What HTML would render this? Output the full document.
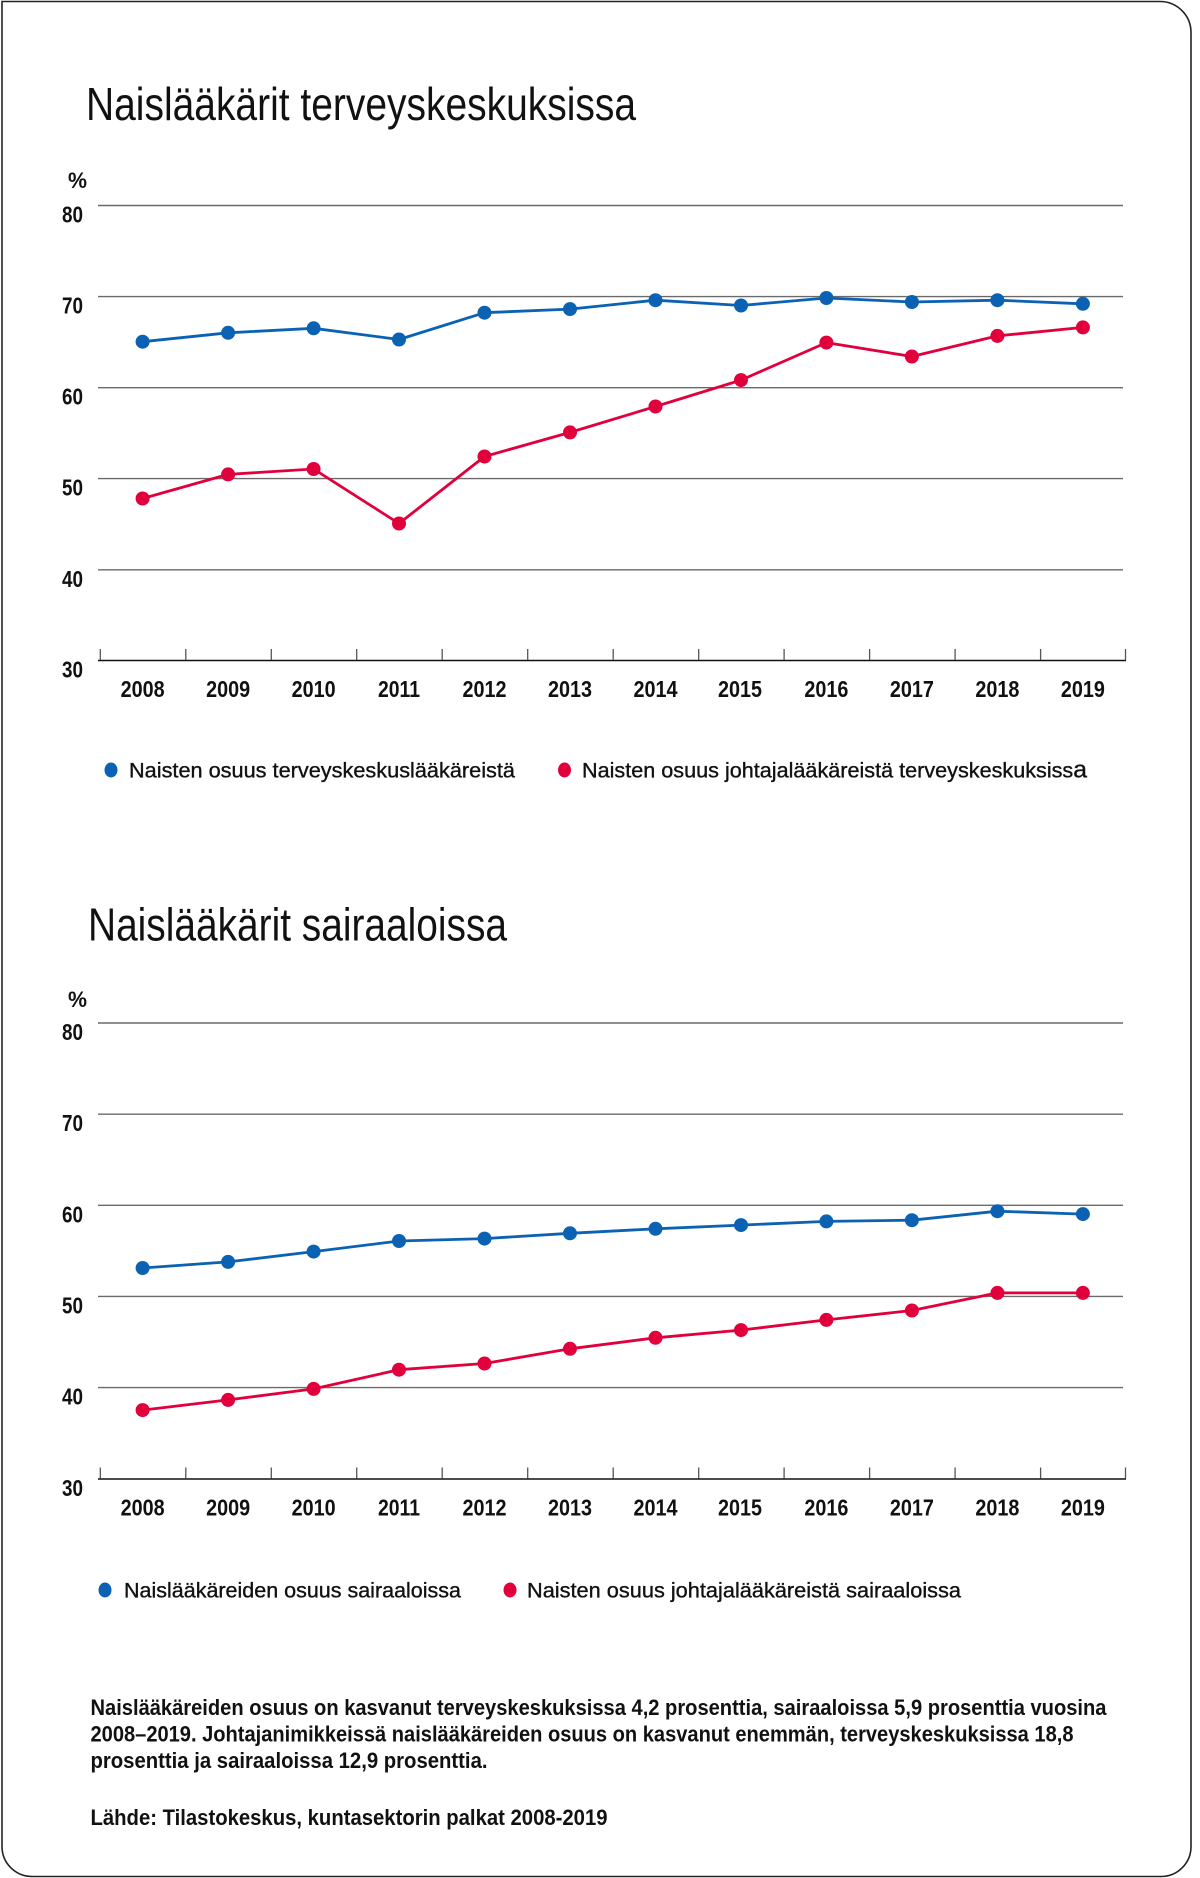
<!DOCTYPE html>
<html>
<head>
<meta charset="utf-8">
<style>
  html, body { margin: 0; padding: 0; background: #ffffff; }
  body { width: 1200px; height: 1878px; overflow: hidden; }
  svg { display: block; }
  .t { font-family: "Liberation Sans Narrow", "Liberation Sans", sans-serif; fill: #111; }
  .b { font-weight: bold; }
  .lg { stroke: #111; stroke-width: 0.35px; }
</style>
</head>
<body>
<svg width="1200" height="1878" viewBox="0 0 1200 1878" xmlns="http://www.w3.org/2000/svg">
  <!-- frame -->
  <path d="M 2 1.5 H 1160 A 31 31 0 0 1 1191 32.5 V 1846 A 30 30 0 0 1 1161 1876.5 H 32 A 30 30 0 0 1 2 1846.5 Z" fill="#fff" stroke="#222" stroke-width="1.6"/>

  <!-- ===== Chart 1 ===== -->
  <text class="t" x="86" y="120" font-size="46" textLength="550" lengthAdjust="spacingAndGlyphs">Naislääkärit terveyskeskuksissa</text>

  <text class="t b" x="68" y="188" font-size="22" textLength="19" lengthAdjust="spacingAndGlyphs">%</text>

  <g stroke="#6a6a6a" stroke-width="1.4">
    <line x1="98" y1="205.5" x2="1123" y2="205.5"/>
    <line x1="98" y1="296.6" x2="1123" y2="296.6"/>
    <line x1="98" y1="387.7" x2="1123" y2="387.7"/>
    <line x1="98" y1="478.6" x2="1123" y2="478.6"/>
    <line x1="98" y1="569.8" x2="1123" y2="569.8"/>
  </g>
  <line x1="98" y1="660.5" x2="1126" y2="660.5" stroke="#111" stroke-width="1.6"/>
  <g stroke="#555" stroke-width="1.3">
    <line x1="100.3" y1="649" x2="100.3" y2="660"/>
    <line x1="185.8" y1="649" x2="185.8" y2="660"/>
    <line x1="271.3" y1="649" x2="271.3" y2="660"/>
    <line x1="356.7" y1="649" x2="356.7" y2="660"/>
    <line x1="442.2" y1="649" x2="442.2" y2="660"/>
    <line x1="527.7" y1="649" x2="527.7" y2="660"/>
    <line x1="613.2" y1="649" x2="613.2" y2="660"/>
    <line x1="698.7" y1="649" x2="698.7" y2="660"/>
    <line x1="784.1" y1="649" x2="784.1" y2="660"/>
    <line x1="869.6" y1="649" x2="869.6" y2="660"/>
    <line x1="955.1" y1="649" x2="955.1" y2="660"/>
    <line x1="1040.6" y1="649" x2="1040.6" y2="660"/>
    <line x1="1125.5" y1="649" x2="1125.5" y2="660"/>
  </g>

  <g class="t b" font-size="23" text-anchor="end">
    <text x="83" y="222.5" textLength="21" lengthAdjust="spacingAndGlyphs">80</text>
    <text x="83" y="313.6" textLength="21" lengthAdjust="spacingAndGlyphs">70</text>
    <text x="83" y="404.7" textLength="21" lengthAdjust="spacingAndGlyphs">60</text>
    <text x="83" y="495.6" textLength="21" lengthAdjust="spacingAndGlyphs">50</text>
    <text x="83" y="586.8" textLength="21" lengthAdjust="spacingAndGlyphs">40</text>
    <text x="83" y="677.5" textLength="21" lengthAdjust="spacingAndGlyphs">30</text>
  </g>

  <g class="t b" font-size="23" text-anchor="middle">
    <text x="142.6" y="697" textLength="44" lengthAdjust="spacingAndGlyphs">2008</text>
    <text x="228.1" y="697" textLength="44" lengthAdjust="spacingAndGlyphs">2009</text>
    <text x="313.6" y="697" textLength="44" lengthAdjust="spacingAndGlyphs">2010</text>
    <text x="399.0" y="697" textLength="42" lengthAdjust="spacingAndGlyphs">2011</text>
    <text x="484.5" y="697" textLength="44" lengthAdjust="spacingAndGlyphs">2012</text>
    <text x="570.0" y="697" textLength="44" lengthAdjust="spacingAndGlyphs">2013</text>
    <text x="655.5" y="697" textLength="44" lengthAdjust="spacingAndGlyphs">2014</text>
    <text x="740.0" y="697" textLength="44" lengthAdjust="spacingAndGlyphs">2015</text>
    <text x="826.4" y="697" textLength="44" lengthAdjust="spacingAndGlyphs">2016</text>
    <text x="911.9" y="697" textLength="44" lengthAdjust="spacingAndGlyphs">2017</text>
    <text x="997.4" y="697" textLength="44" lengthAdjust="spacingAndGlyphs">2018</text>
    <text x="1082.9" y="697" textLength="44" lengthAdjust="spacingAndGlyphs">2019</text>
  </g>

  <!-- blue series chart 1 -->
  <polyline fill="none" stroke="#0b62b3" stroke-width="2.8" stroke-linejoin="round"
    points="142.6,341.7 228.1,332.8 313.6,328.3 399.0,339.5 484.5,312.7 570.0,309.1 655.5,300.2 741.0,305.5 826.4,298 911.9,302 997.4,300.2 1082.9,303.8"/>
  <g fill="#0b62b3">
    <circle cx="142.6" cy="341.7" r="7"/><circle cx="228.1" cy="332.8" r="7"/>
    <circle cx="313.6" cy="328.3" r="7"/><circle cx="399.0" cy="339.5" r="7"/>
    <circle cx="484.5" cy="312.7" r="7"/><circle cx="570.0" cy="309.1" r="7"/>
    <circle cx="655.5" cy="300.2" r="7"/><circle cx="741.0" cy="305.5" r="7"/>
    <circle cx="826.4" cy="298" r="7"/><circle cx="911.9" cy="302" r="7"/>
    <circle cx="997.4" cy="300.2" r="7"/><circle cx="1082.9" cy="303.8" r="7"/>
  </g>
  <!-- red series chart 1 -->
  <polyline fill="none" stroke="#e2003c" stroke-width="2.8" stroke-linejoin="round"
    points="142.6,498.5 228.1,474.4 313.6,469 399.0,523.5 484.5,456.5 570.0,432.4 655.5,406.5 741.0,380.1 826.4,342.6 911.9,356.5 997.4,335.9 1082.9,327.4"/>
  <g fill="#e2003c">
    <circle cx="142.6" cy="498.5" r="7"/><circle cx="228.1" cy="474.4" r="7"/>
    <circle cx="313.6" cy="469" r="7"/><circle cx="399.0" cy="523.5" r="7"/>
    <circle cx="484.5" cy="456.5" r="7"/><circle cx="570.0" cy="432.4" r="7"/>
    <circle cx="655.5" cy="406.5" r="7"/><circle cx="741.0" cy="380.1" r="7"/>
    <circle cx="826.4" cy="342.6" r="7"/><circle cx="911.9" cy="356.5" r="7"/>
    <circle cx="997.4" cy="335.9" r="7"/><circle cx="1082.9" cy="327.4" r="7"/>
  </g>

  <!-- legend 1 -->
  <ellipse cx="111" cy="770" rx="6.5" ry="7.5" fill="#0b62b3"/>
  <text class="t lg" x="129" y="777.5" font-size="21" textLength="386" lengthAdjust="spacingAndGlyphs">Naisten osuus terveyskeskuslääkäreistä</text>
  <ellipse cx="564.5" cy="770" rx="6.5" ry="7.5" fill="#e2003c"/>
  <text class="t lg" x="582" y="777.5" font-size="21" textLength="505" lengthAdjust="spacingAndGlyphs">Naisten osuus johtajalääkäreistä terveyskeskuksiss<tspan font-size="24">a</tspan></text>

  <!-- ===== Chart 2 ===== -->
  <text class="t" x="88" y="940.5" font-size="46" textLength="419" lengthAdjust="spacingAndGlyphs">Naislääkärit sairaaloissa</text>

  <text class="t b" x="68" y="1007" font-size="22" textLength="19" lengthAdjust="spacingAndGlyphs">%</text>

  <g stroke="#6a6a6a" stroke-width="1.4">
    <line x1="98" y1="1023" x2="1123" y2="1023"/>
    <line x1="98" y1="1114.2" x2="1123" y2="1114.2"/>
    <line x1="98" y1="1205.3" x2="1123" y2="1205.3"/>
    <line x1="98" y1="1296.4" x2="1123" y2="1296.4"/>
    <line x1="98" y1="1387.6" x2="1123" y2="1387.6"/>
  </g>
  <line x1="98" y1="1479" x2="1126" y2="1479" stroke="#111" stroke-width="1.6"/>
  <g stroke="#555" stroke-width="1.3">
    <line x1="100.3" y1="1467.5" x2="100.3" y2="1478.5"/>
    <line x1="185.8" y1="1467.5" x2="185.8" y2="1478.5"/>
    <line x1="271.3" y1="1467.5" x2="271.3" y2="1478.5"/>
    <line x1="356.7" y1="1467.5" x2="356.7" y2="1478.5"/>
    <line x1="442.2" y1="1467.5" x2="442.2" y2="1478.5"/>
    <line x1="527.7" y1="1467.5" x2="527.7" y2="1478.5"/>
    <line x1="613.2" y1="1467.5" x2="613.2" y2="1478.5"/>
    <line x1="698.7" y1="1467.5" x2="698.7" y2="1478.5"/>
    <line x1="784.1" y1="1467.5" x2="784.1" y2="1478.5"/>
    <line x1="869.6" y1="1467.5" x2="869.6" y2="1478.5"/>
    <line x1="955.1" y1="1467.5" x2="955.1" y2="1478.5"/>
    <line x1="1040.6" y1="1467.5" x2="1040.6" y2="1478.5"/>
    <line x1="1125.5" y1="1467.5" x2="1125.5" y2="1478.5"/>
  </g>

  <g class="t b" font-size="23" text-anchor="end">
    <text x="83" y="1040" textLength="21" lengthAdjust="spacingAndGlyphs">80</text>
    <text x="83" y="1131.2" textLength="21" lengthAdjust="spacingAndGlyphs">70</text>
    <text x="83" y="1222.3" textLength="21" lengthAdjust="spacingAndGlyphs">60</text>
    <text x="83" y="1313.4" textLength="21" lengthAdjust="spacingAndGlyphs">50</text>
    <text x="83" y="1404.6" textLength="21" lengthAdjust="spacingAndGlyphs">40</text>
    <text x="83" y="1496" textLength="21" lengthAdjust="spacingAndGlyphs">30</text>
  </g>

  <g class="t b" font-size="23" text-anchor="middle">
    <text x="142.6" y="1515.5" textLength="44" lengthAdjust="spacingAndGlyphs">2008</text>
    <text x="228.1" y="1515.5" textLength="44" lengthAdjust="spacingAndGlyphs">2009</text>
    <text x="313.6" y="1515.5" textLength="44" lengthAdjust="spacingAndGlyphs">2010</text>
    <text x="399.0" y="1515.5" textLength="42" lengthAdjust="spacingAndGlyphs">2011</text>
    <text x="484.5" y="1515.5" textLength="44" lengthAdjust="spacingAndGlyphs">2012</text>
    <text x="570.0" y="1515.5" textLength="44" lengthAdjust="spacingAndGlyphs">2013</text>
    <text x="655.5" y="1515.5" textLength="44" lengthAdjust="spacingAndGlyphs">2014</text>
    <text x="740.0" y="1515.5" textLength="44" lengthAdjust="spacingAndGlyphs">2015</text>
    <text x="826.4" y="1515.5" textLength="44" lengthAdjust="spacingAndGlyphs">2016</text>
    <text x="911.9" y="1515.5" textLength="44" lengthAdjust="spacingAndGlyphs">2017</text>
    <text x="997.4" y="1515.5" textLength="44" lengthAdjust="spacingAndGlyphs">2018</text>
    <text x="1082.9" y="1515.5" textLength="44" lengthAdjust="spacingAndGlyphs">2019</text>
  </g>

  <!-- blue series chart 2 -->
  <polyline fill="none" stroke="#0b62b3" stroke-width="2.8" stroke-linejoin="round"
    points="142.6,1268 228.1,1261.9 313.6,1251.6 399.0,1241 484.5,1238.6 570.0,1233.3 655.5,1228.8 741.0,1225.1 826.4,1221.4 911.9,1220.2 997.4,1211.2 1082.9,1214.1"/>
  <g fill="#0b62b3">
    <circle cx="142.6" cy="1268" r="7"/><circle cx="228.1" cy="1261.9" r="7"/>
    <circle cx="313.6" cy="1251.6" r="7"/><circle cx="399.0" cy="1241" r="7"/>
    <circle cx="484.5" cy="1238.6" r="7"/><circle cx="570.0" cy="1233.3" r="7"/>
    <circle cx="655.5" cy="1228.8" r="7"/><circle cx="741.0" cy="1225.1" r="7"/>
    <circle cx="826.4" cy="1221.4" r="7"/><circle cx="911.9" cy="1220.2" r="7"/>
    <circle cx="997.4" cy="1211.2" r="7"/><circle cx="1082.9" cy="1214.1" r="7"/>
  </g>
  <!-- red series chart 2 -->
  <polyline fill="none" stroke="#e2003c" stroke-width="2.8" stroke-linejoin="round"
    points="142.6,1410.1 228.1,1399.9 313.6,1388.9 399.0,1369.7 484.5,1363.5 570.0,1348.8 655.5,1337.8 741.0,1330.1 826.4,1319.9 911.9,1310.5 997.4,1292.9 1082.9,1292.9"/>
  <g fill="#e2003c">
    <circle cx="142.6" cy="1410.1" r="7"/><circle cx="228.1" cy="1399.9" r="7"/>
    <circle cx="313.6" cy="1388.9" r="7"/><circle cx="399.0" cy="1369.7" r="7"/>
    <circle cx="484.5" cy="1363.5" r="7"/><circle cx="570.0" cy="1348.8" r="7"/>
    <circle cx="655.5" cy="1337.8" r="7"/><circle cx="741.0" cy="1330.1" r="7"/>
    <circle cx="826.4" cy="1319.9" r="7"/><circle cx="911.9" cy="1310.5" r="7"/>
    <circle cx="997.4" cy="1292.9" r="7"/><circle cx="1082.9" cy="1292.9" r="7"/>
  </g>

  <!-- legend 2 -->
  <ellipse cx="105" cy="1590" rx="6.5" ry="7.5" fill="#0b62b3"/>
  <text class="t lg" x="124" y="1597.5" font-size="21" textLength="337" lengthAdjust="spacingAndGlyphs">Naislääkäreiden osuus sairaaloissa</text>
  <ellipse cx="510" cy="1590" rx="6.5" ry="7.5" fill="#e2003c"/>
  <text class="t lg" x="527" y="1597.5" font-size="21" textLength="434" lengthAdjust="spacingAndGlyphs">Naisten osuus johtajalääkäreistä sairaaloissa</text>

  <!-- footer -->
  <g class="t b" font-size="22">
    <text x="90.5" y="1715" textLength="1016" lengthAdjust="spacingAndGlyphs">Naislääkäreiden osuus on kasvanut terveyskeskuksissa 4,2 prosenttia, sairaaloissa 5,9 prosenttia vuosina</text>
    <text x="90.5" y="1741.6" textLength="983" lengthAdjust="spacingAndGlyphs">2008–2019. Johtajanimikkeissä naislääkäreiden osuus on kasvanut enemmän, terveyskeskuksissa 18,8</text>
    <text x="90.5" y="1768" textLength="397" lengthAdjust="spacingAndGlyphs">prosenttia ja sairaaloissa 12,9 prosenttia.</text>
    <text x="90.5" y="1825" textLength="517" lengthAdjust="spacingAndGlyphs">Lähde: Tilastokeskus, kuntasektorin palkat 2008-2019</text>
  </g>
</svg>
</body>
</html>
